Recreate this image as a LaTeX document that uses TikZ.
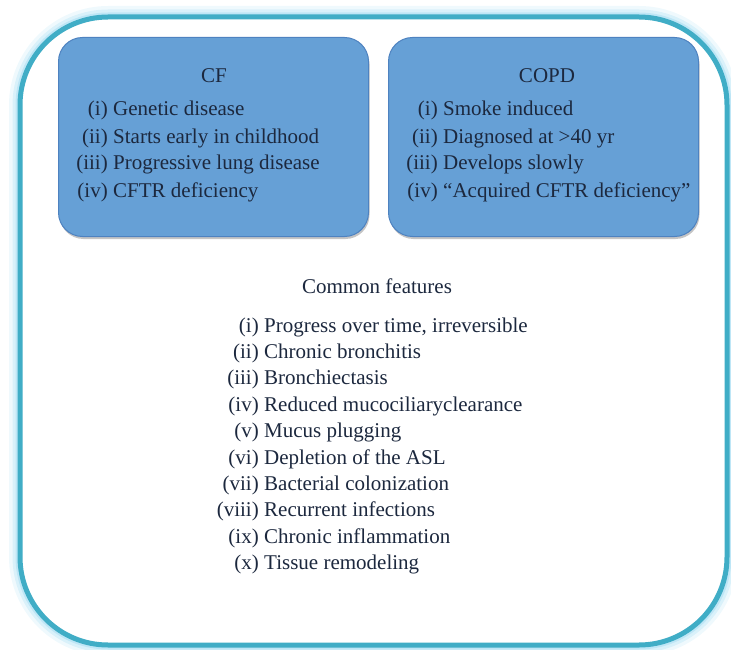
\documentclass[tikz,border=0pt]{standalone}
\usepackage{fontspec}
\setmainfont{Liberation Serif}
\usetikzlibrary{shadows}
\definecolor{myteal}{RGB}{64,173,198}
\definecolor{myglow}{RGB}{150,215,240}
\definecolor{myblue}{RGB}{102,160,214}
\definecolor{myblueframe}{RGB}{78,130,192}
\definecolor{mydark}{RGB}{28,40,62}
\tikzset{
  diseasebox/.style={rectangle,draw=myblueframe,fill=myblue,line width=1pt,rounded corners=24pt,
    minimum width=310pt,minimum height=199pt,
    drop shadow={shadow xshift=1pt,shadow yshift=-2.5pt,opacity=0.45}},
  titletext/.style={anchor=base,inner sep=0pt,font=\fontsize{21}{25}\selectfont,text=mydark},
  labeltext/.style={anchor=base east,inner sep=0pt,font=\fontsize{21}{25}\selectfont,text=mydark},
  itemtext/.style={anchor=base west,inner sep=0pt,font=\fontsize{21}{25}\selectfont,text=mydark},
  frameline/.style={rounded corners=88pt}
}

\begin{document}
\begin{tikzpicture}[x=1pt,y=-1pt]
  \useasboundingbox (0,0) rectangle (731,650);

  % Outer frame with glow
  \draw[frameline, myglow, opacity=0.15, line width=22pt] (20,17) rectangle (727,645);
  \draw[frameline, myglow, opacity=0.25, line width=15pt] (20,17) rectangle (727,645);
  \draw[frameline, myglow, opacity=0.4, line width=9pt] (20,17) rectangle (727,645);
  \fill[frameline, white] (20,17) rectangle (727,645);

  % Disease boxes
  \node[diseasebox] (cf) at (213.5,137) {};
  \node[diseasebox] (copd) at (543.5,137) {};

  \draw[frameline, myteal, line width=5pt] (20,17) rectangle (727,645);

  % CF
  \node[titletext] (cftitle) at (214,83) {CF};
  \foreach \lab/\txt [count=\i] in {(i)/Genetic disease, (ii)/Starts early in childhood,
      (iii)/Progressive lung disease, (iv)/CFTR deficiency}
  {
    \node[labeltext] (cfl\i) at (108,{116+27*(\i-1)}) {\lab};
    \node[itemtext] (cft\i) at (113,{116+27*(\i-1)}) {\txt};
  }

  % COPD
  \node[titletext] (copdtitle) at (547,83) {COPD};
  \foreach \lab/\txt [count=\i] in {(i)/Smoke induced, (ii)/Diagnosed at >40 yr,
      (iii)/Develops slowly, (iv)/“Acquired CFTR deficiency”}
  {
    \node[labeltext] (copdl\i) at (438,{116+27*(\i-1)}) {\lab};
    \node[itemtext] (copdt\i) at (443,{116+27*(\i-1)}) {\txt};
  }

  % Common features
  \node[titletext] (commontitle) at (377,293) {Common features};
  \foreach \lab/\txt [count=\i] in {(i)/{Progress over time, irreversible}, (ii)/Chronic bronchitis,
      (iii)/Bronchiectasis, (iv)/Reduced mucociliaryclearance, (v)/Mucus plugging,
      (vi)/Depletion of the ASL, (vii)/Bacterial colonization, (viii)/Recurrent infections,
      (ix)/Chronic inflammation, (x)/Tissue remodeling}
  {
    \node[labeltext] (coml\i) at (259,{332+26.4*(\i-1)}) {\lab};
    \node[itemtext] (comt\i) at (264,{332+26.4*(\i-1)}) {\txt};
  }
\end{tikzpicture}
\end{document}
